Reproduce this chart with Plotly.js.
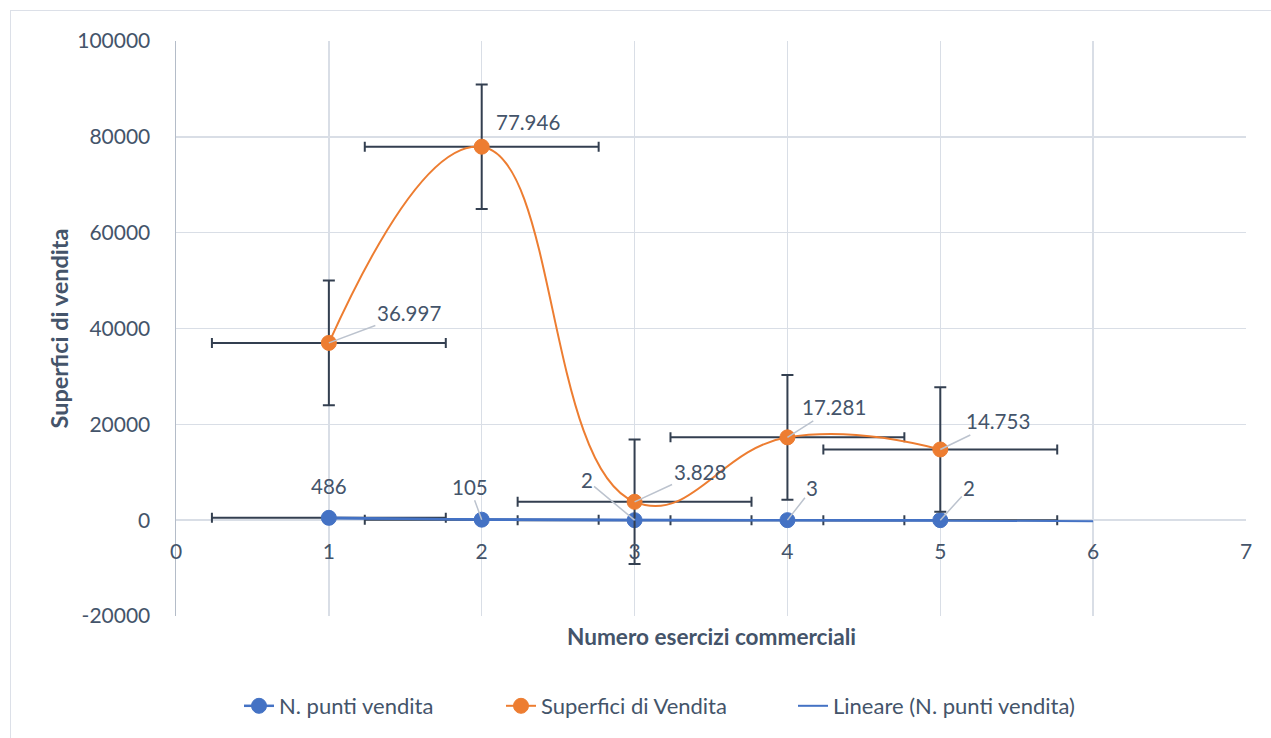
<!DOCTYPE html>
<html>
<head>
<meta charset="utf-8">
<script src="https://cdn.plot.ly/plotly-3.0.1.min.js"></script>
<style>
html,body{margin:0;padding:0;background:#fff;}
#wrap{position:relative;width:1271px;height:738px;overflow:hidden;}
#chart{position:absolute;left:0;top:0;width:1271px;height:738px;}
#frame{position:absolute;left:10px;top:10px;width:1275px;height:745px;border:1.5px solid #DCE0E8;pointer-events:none;}
</style>
</head>
<body>
<div id="wrap"><div id="chart"></div><div id="frame"></div></div>
<script>
// ---- data ----
const xEsercizi = [1, 2, 3, 4, 5];
const puntiVendita = [486, 105, 2, 3, 2];
const superficiVendita = [36997, 77946, 3828, 17281, 14753];
const errYSuperfici = 13000;      // +/- error on Superfici di Vendita
const errXBoth = 0.765;           // +/- error along x for both series
const trendForward = 1;           // trendline forecast forward (periods)
const xTickVals = [0, 1, 2, 3, 4, 5, 6, 7];
const yTickVals = [-20000, 0, 20000, 40000, 60000, 80000, 100000];
const yTickText = ['-20000', '0', '20000', '40000', '60000', '80000', '100000'];
const seriesNames = ['N. punti vendita', 'Superfici di Vendita', 'Lineare (N. punti vendita)'];

// ---- helpers ----
function fmtIt(v){ return String(v).replace(/\B(?=(\d{3})+(?!\d))/g, '.'); }
function linReg(xs, ys){
  const n = xs.length;
  const mx = xs.reduce((a,b)=>a+b,0)/n, my = ys.reduce((a,b)=>a+b,0)/n;
  let sxy=0, sxx=0;
  for(let i=0;i<n;i++){ sxy += (xs[i]-mx)*(ys[i]-my); sxx += (xs[i]-mx)*(xs[i]-mx); }
  const b = sxy/sxx; return {a: my - b*mx, b: b};
}
const reg = linReg(xEsercizi, puntiVendita);
const trendX = [xEsercizi[0], xEsercizi[xEsercizi.length-1] + trendForward];
const trendY = trendX.map(x => reg.a + reg.b*x);

const BLUE = '#4472C4', ORANGE = '#ED7D31', TXT = '#44546A', ERR = '#333F50', GRID = '#D9DEE6', LEAD = '#BCC3CE';
const FONT = 'Lato, "Open Sans", sans-serif';

const traces = [
  {
    type:'scatter', mode:'lines+markers', name: seriesNames[0], legend:'legend',
    x: xEsercizi, y: puntiVendita,
    line:{color:BLUE, width:2.5, shape:'spline', smoothing:1.3},
    marker:{color:BLUE, size:15, line:{color:BLUE, width:1}},
    error_x:{type:'constant', value:errXBoth, color:ERR, thickness:2, width:5}
  },
  {
    type:'scatter', mode:'lines+markers', name: seriesNames[1], legend:'legend2',
    x: xEsercizi, y: superficiVendita,
    line:{color:ORANGE, width:2, shape:'spline', smoothing:1.3},
    marker:{color:ORANGE, size:15, line:{color:ORANGE, width:1}},
    error_x:{type:'constant', value:errXBoth, color:ERR, thickness:2, width:5},
    error_y:{type:'constant', value:errYSuperfici, color:ERR, thickness:2, width:6}
  },
  {
    type:'scatter', mode:'lines', name: seriesNames[2], legend:'legend3',
    x: trendX, y: trendY,
    line:{color:BLUE, width:2}
  }
];

// label offsets (pixels) for each point: [dx, dy, leader]
const offBlue = [[0,-32,false],[-12,-33,true],[-48,-40,true],[25,-32,true],[29,-32,true]];
const offOrange = [[80,-30,true],[46,-25,false],[65,-30,true],[47,-30,true],[58,-28,true]];

const annotations = [];
function addLabels(ys, offs){
  ys.forEach((v,i)=>{
    const o = offs[i];
    const base = {x:xEsercizi[i], y:v, xref:'x', yref:'y', text:fmtIt(v),
      font:{family:FONT, size:20.5, color:TXT}};
    if(o[2]){
      Object.assign(base, {showarrow:true, arrowhead:0, arrowwidth:1.5, arrowcolor:LEAD,
        ax:o[0], ay:o[1], axref:'pixel', ayref:'pixel', standoff:0, startstandoff:0});
    } else {
      Object.assign(base, {showarrow:false, xshift:o[0], yshift:-o[1]});
    }
    annotations.push(base);
  });
}
addLabels(puntiVendita, offBlue);
addLabels(superficiVendita, offOrange);
annotations.push({
  text:'<b>Numero esercizi commerciali</b>', xref:'paper', yref:'paper', x:0.5, y:-0.035,
  xanchor:'center', yanchor:'middle', showarrow:false, font:{family:FONT, size:22.6, color:TXT}
});

function legendAt(px){
  return {orientation:'h', xref:'container', yref:'container', x:px/1271, xanchor:'left',
    y:1-706/738, yanchor:'middle', bgcolor:'rgba(0,0,0,0)', font:{family:FONT, size:22, color:TXT}};
}

const layout = {
  width:1271, height:738,
  margin:{l:176, r:25, t:41, b:122, pad:0},
  paper_bgcolor:'#ffffff', plot_bgcolor:'#ffffff',
  font:{family:FONT, size:20, color:TXT},
  showlegend:true,
  legend: legendAt(279-40),
  legend2: legendAt(541-40),
  legend3: legendAt(833-40),
  xaxis:{range:[0,7], tickvals:xTickVals, showgrid:true, gridcolor:GRID, gridwidth:1.5,
    zeroline:false, showline:false, ticks:'', anchor:'free', position:1/6,
    ticklabelstandoff:17, tickfont:{family:FONT, size:21, color:TXT}, fixedrange:true},
  yaxis:{range:[-20000,100000], tickvals:yTickVals, ticktext:yTickText, showgrid:true,
    gridcolor:GRID, gridwidth:1.5, zeroline:false, showline:true, linecolor:'#B4BCC8', linewidth:1.5,
    ticks:'', ticklabelstandoff:20, tickfont:{family:FONT, size:21, color:TXT},
    title:{text:'<b>Superfici di vendita</b>', font:{family:FONT, size:23.5, color:TXT}, standoff:2}},
  annotations: annotations
};

Plotly.newPlot('chart', traces, layout, {staticPlot:true, displayModeBar:false});
</script>
</body>
</html>
